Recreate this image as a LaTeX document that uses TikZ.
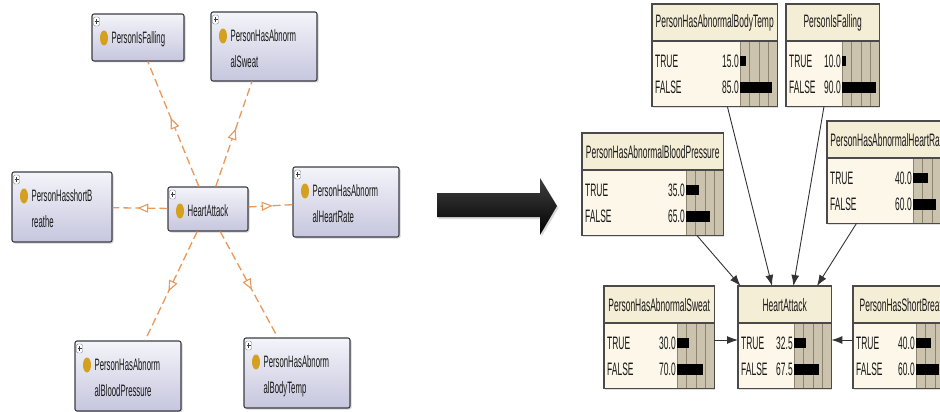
\documentclass[tikz,border=0pt]{standalone}
\usepackage{fontspec}
\setmainfont{Liberation Sans}[FakeStretch=0.47]
\usetikzlibrary{arrows.meta,decorations.markings,shadows}

\definecolor{owlline}{HTML}{3C3C46}
\definecolor{owltop}{HTML}{F4F4FA}
\definecolor{owlbot}{HTML}{C6C6DE}
\definecolor{owlgold}{HTML}{D4A020}
\definecolor{owldash}{HTML}{E8985A}
\definecolor{bnbody}{HTML}{FCF7E8}
\definecolor{bnhead}{HTML}{F5EED6}
\definecolor{bnbarbg}{HTML}{CBC3AD}
\definecolor{bngridc}{HTML}{8C846F}
\definecolor{bnlinec}{HTML}{4A4A4A}

\tikzstyle{owlclass} = [rectangle, rounded corners=2pt, draw=owlline, line width=1.1pt, top color=owltop, bottom color=owlbot, drop shadow={shadow xshift=1.5pt, shadow yshift=-1.5pt, opacity=0.35}, path picture={
  \fill[owlgold] ([xshift=12pt,yshift=-24pt]path picture bounding box.north west) ellipse (4pt and 7.5pt);
  \filldraw[fill=white, draw=gray, line width=0.4pt] ([xshift=1.5pt,yshift=-3pt]path picture bounding box.north west) rectangle ++(6pt,-9pt);
  \draw[line width=0.6pt] ([xshift=4.5pt,yshift=-5pt]path picture bounding box.north west) -- ++(0pt,-5pt);
  \draw[line width=0.6pt] ([xshift=2.5pt,yshift=-7.5pt]path picture bounding box.north west) -- ++(4pt,0pt);}]
\tikzstyle{owltext} = [anchor=north west, xshift=20pt, yshift=-18pt, inner sep=0pt, align=left, font=\fontsize{16.5}{26}\selectfont, text=black!90]
\tikzstyle{owledge} = [draw=owldash, line width=1.3pt, dash pattern=on 8pt off 4pt, postaction={decorate}, decoration={markings, mark=at position 0.55 with {\arrow{Triangle[length=11pt, width=9pt, fill=white, line width=1.1pt]}}}]
\tikzstyle{bnbox} = [rectangle, fill=bnbody, draw=none, minimum height=102, drop shadow={shadow xshift=1pt, shadow yshift=-1.5pt, opacity=0.25}]
\tikzstyle{bntext} = [inner sep=0pt, font=\fontsize{18}{20}\selectfont, text=black!90]
\tikzstyle{bnedge} = [draw=black!80, line width=0.9pt, -{Latex[length=11pt, width=8pt]}]

\newcommand{\bnnode}[7]{%
  \node (#1) [bnbox, minimum width=#4, anchor=north west] at (#2,#3) {};
  \fill[bnhead] (#1.north west) rectangle ([yshift=-37pt]#1.north east);
  \fill[bnbarbg] ([xshift=-37pt,yshift=-37pt]#1.north east) rectangle (#1.south east);
  \foreach \g in {0,1,2,3}
    \draw[bngridc, line width=0.7pt] ([xshift=-37pt+\g*9.25pt,yshift=-37pt]#1.north east) -- ([xshift=-37pt+\g*9.25pt]#1.south east);
  \fill[black] ([xshift=-37pt,yshift=-52pt]#1.north east) rectangle ([xshift=-37pt+0.37pt*#6,yshift=-62pt]#1.north east);
  \fill[black] ([xshift=-37pt,yshift=-78pt]#1.north east) rectangle ([xshift=-37pt+0.37pt*#7,yshift=-89pt]#1.north east);
  \node (#1-t) [bntext] at ([yshift=-19pt]#1.north) {#5};
  \node (#1-a) [bntext, anchor=west] at ([xshift=3pt,yshift=-57pt]#1.north west) {TRUE};
  \node (#1-b) [bntext, anchor=west] at ([xshift=3pt,yshift=-83pt]#1.north west) {FALSE};
  \node (#1-c) [bntext, anchor=east] at ([xshift=-38.5pt,yshift=-57pt]#1.north east) {#6};
  \node (#1-d) [bntext, anchor=east] at ([xshift=-38.5pt,yshift=-83pt]#1.north east) {#7};
  \draw[bnlinec, line width=1.5pt] ([yshift=-37pt]#1.north west) -- ([yshift=-37pt]#1.north east);
  \draw[bnlinec, line width=1.2pt] (#1.south west) rectangle (#1.north east);
  \draw[bnlinec, line width=2.2pt] (#1.north west) -- (#1.north east);
}

\begin{document}
\begin{tikzpicture}[x=1pt, y=-1pt]
\useasboundingbox (0,0) rectangle (940,412);
\clip (0,0) rectangle (940,412);

\node (cls0) [owlclass, minimum width=80, minimum height=44, label={[owltext]north west:HeartAttack}] at (208,209) {};
\node (cls1) [owlclass, minimum width=92, minimum height=47, label={[owltext]north west:PersonIsFalling}] at (138,37.5) {};
\node (cls2) [owlclass, minimum width=106, minimum height=69, label={[owltext]north west:PersonHasAbnorm\\alSweat}] at (264,46.5) {};
\node (cls3) [owlclass, minimum width=100, minimum height=70, label={[owltext]north west:PersonHasshortB\\reathe}] at (62,207) {};
\node (cls4) [owlclass, minimum width=106, minimum height=70, label={[owltext]north west:PersonHasAbnorm\\alHeartRate}] at (346,202) {};
\node (cls5) [owlclass, minimum width=106, minimum height=70, label={[owltext]north west:PersonHasAbnorm\\alBloodPressure}] at (128,376) {};
\node (cls6) [owlclass, minimum width=106, minimum height=70, label={[owltext]north west:PersonHasAbnorm\\alBodyTemp}] at (297,373) {};

\draw [owledge] (cls0) -- (cls1);
\draw [owledge] (cls0) -- (cls2);
\draw [owledge] (cls0) -- (cls3);
\draw [owledge] (cls0) -- (cls4);
\draw [owledge] (cls0) -- (cls5);
\draw [owledge] (cls0) -- (cls6);

\shade [top color=black!75, middle color=black!50, bottom color=black, drop shadow={shadow xshift=1.5pt, shadow yshift=-2pt, opacity=0.3}] (437,193) -- (540,193) -- (540,178) -- (557,206) -- (540,235) -- (540,217) -- (437,217) -- cycle;

\bnnode{bn1}{652}{4}{125}{PersonHasAbnormalBodyTemp}{15.0}{85.0}
\bnnode{bn2}{786}{4}{93}{PersonIsFalling}{10.0}{90.0}
\bnnode{bn3}{582}{133}{141}{PersonHasAbnormalBloodPressure}{35.0}{65.0}
\bnnode{bn4}{827}{121}{123}{PersonHasAbnormalHeartRate}{40.0}{60.0}
\bnnode{bn5}{604}{286}{110}{PersonHasAbnormalSweat}{30.0}{70.0}
\bnnode{bn0}{738}{286}{93}{HeartAttack}{32.5}{67.5}
\bnnode{bn6}{853}{286}{100}{PersonHasShortBreath}{40.0}{60.0}

\draw [bnedge] (bn1) -- (bn0);
\draw [bnedge] (bn2) -- (bn0);
\draw [bnedge] (bn3) -- (bn0);
\draw [bnedge] (bn4) -- (bn0);
\draw [bnedge] ([yshift=-54pt]bn5.north east) -- ([yshift=-54pt]bn0.north west);
\draw [bnedge] ([yshift=-54pt]bn6.north west) -- ([yshift=-54pt]bn0.north east);
\end{tikzpicture}
\end{document}
